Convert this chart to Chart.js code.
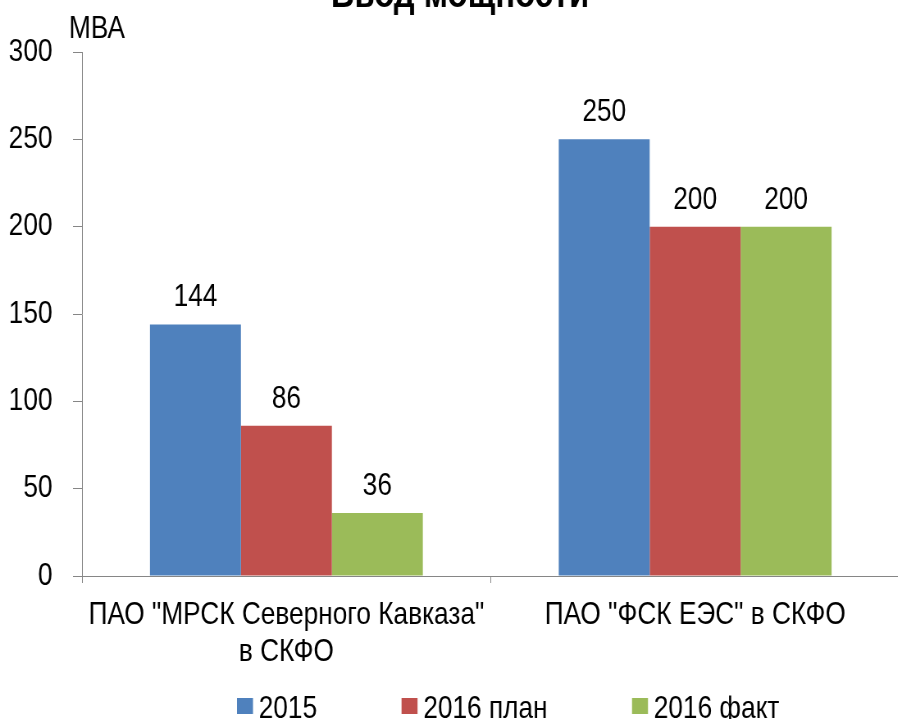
<!DOCTYPE html>
<html>
<head>
<meta charset="utf-8">
<script src="https://cdn.jsdelivr.net/npm/chart.js"></script>
<style>
    html, body { margin: 0; padding: 0; background: #fff; }
    #outer { position: relative; width: 898px; height: 719px; overflow: hidden; }
    /* узкий шрифт (как Arial Narrow) получаем сжатием всего холста по горизонтали */
    #wrap { position: absolute; left: 0; top: 0; width: 1097px; height: 719px;
            transform: scaleX(0.82); transform-origin: 0 0; }
</style>
</head>
<body>
<div id="outer"><div id="wrap"><canvas id="powerChart"></canvas></div></div>
<script>
// данные графика
const categories = [['ПАО "МРСК Северного Кавказа"', 'в СКФО'], 'ПАО "ФСК ЕЭС" в СКФО'];
const values2015 = [144, 250];
const valuesPlan2016 = [86, 200];
const valuesFact2016 = [36, 200];
const seriesNames = ['2015', '2016 план', '2016 факт'];
const seriesColors = ['#4F81BD', '#C0504D', '#9BBB59'];
const yTicks = [0, 50, 100, 150, 200, 250, 300];

const FONT = "'Liberation Sans', Arial, sans-serif";
const axisColor = '#868686';

// подписи значений над столбиками
const valueLabels = {
    id: 'valueLabels',
    afterDatasetsDraw(chart) {
        const ctx = chart.ctx;
        ctx.save();
        ctx.font = '32px ' + FONT;
        ctx.fillStyle = '#000';
        ctx.textAlign = 'center';
        ctx.textBaseline = 'alphabetic';
        chart.data.datasets.forEach((ds, i) => {
            chart.getDatasetMeta(i).data.forEach((bar, j) => {
                ctx.fillText(ds.data[j], bar.x, bar.y - 18);
            });
        });
        ctx.restore();
    }
};

// заголовок (обрезан сверху), единицы и легенда
const headerAndLegend = {
    id: 'headerAndLegend',
    afterDraw(chart) {
        const ctx = chart.ctx;
        ctx.save();
        ctx.fillStyle = '#000';
        ctx.textBaseline = 'alphabetic';
        ctx.font = 'bold 40px ' + FONT;
        ctx.textAlign = 'center';
        ctx.fillText('Ввод мощности', 561, 7);
        ctx.font = '32px ' + FONT;
        ctx.textAlign = 'left';
        ctx.fillText('МВА', 84, 38);

        // легенда
        let x = 289;
        chart.data.datasets.forEach(ds => {
            ctx.fillStyle = ds.backgroundColor;
            ctx.fillRect(x, 698, 19.5, 16);
            x += 19.5 + 7;
            ctx.fillStyle = '#000';
            ctx.fillText(ds.label, x, 718);
            x += ctx.measureText(ds.label).width + 103;
        });
        ctx.restore();
    }
};

new Chart(document.getElementById('powerChart'), {
    type: 'bar',
    data: {
        labels: categories,
        datasets: seriesNames.map((name, i) => ({
            label: name,
            data: [values2015, valuesPlan2016, valuesFact2016][i],
            backgroundColor: seriesColors[i]
        }))
    },
    options: {
        responsive: true,
        maintainAspectRatio: false,
        animation: false,
        devicePixelRatio: 1,
        categoryPercentage: 0.6675,
        barPercentage: 1,
        layout: { padding: { top: 52, right: 0, left: 0, bottom: 0 } },
        scales: {
            x: {
                offset: true,
                grid: {
                    offset: true,
                    drawOnChartArea: false,
                    tickLength: 7,
                    tickColor: axisColor
                },
                border: { color: axisColor, width: 1 },
                ticks: {
                    color: '#000',
                    font: { family: FONT, size: 32, lineHeight: 1.156 },
                    padding: 14,
                    maxRotation: 0,
                    autoSkip: false
                },
                afterFit(scale) { scale.height = 143; }
            },
            y: {
                min: 0,
                max: 300,
                afterBuildTicks(scale) { scale.ticks = yTicks.map(v => ({ value: v })); },
                grid: {
                    drawOnChartArea: false,
                    tickLength: 11,
                    tickColor: axisColor
                },
                border: { color: axisColor, width: 1 },
                ticks: {
                    color: '#000',
                    font: { family: FONT, size: 32 },
                    padding: 25
                },
                afterFit(scale) { scale.width = 100; }
            }
        },
        plugins: {
            legend: { display: false },
            tooltip: { enabled: false }
        }
    },
    plugins: [valueLabels, headerAndLegend]
});
</script>
</body>
</html>
